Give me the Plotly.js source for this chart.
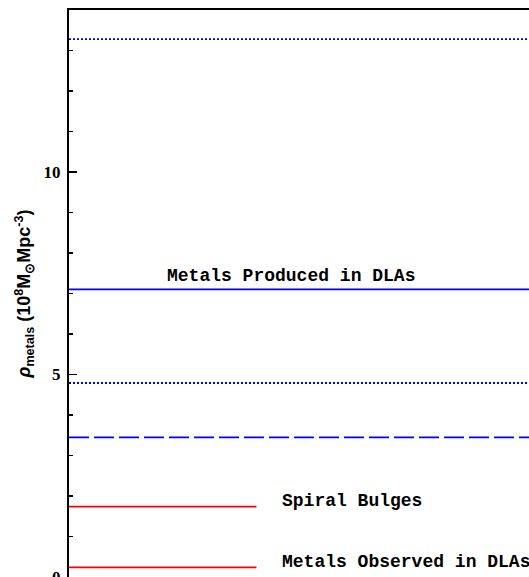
<!DOCTYPE html>
<html><head><meta charset="utf-8">
<script src="https://cdn.plot.ly/plotly-3.0.1.min.js"></script>
<style>html,body{margin:0;padding:0;overflow:hidden;background:#fff;width:529px;height:577px}</style>
</head><body><div id="chart"></div>
<script>
// Horizontal reference levels (10^8 Msun Mpc^-3)
const blueLevels = [13.28, 7.10, 4.79, 3.45];
const blueStyles = ['dot', 'solid', 'dot', 'dash'];
const redLevels = [1.74, 0.24];
const fullSpan = [0, 1];
const redSpan = [0, 0.313];
const labelTexts = ['Metals Produced in DLAs', 'Spiral Bulges', 'Metals Observed in DLAs'];
const labelX = [0.37, 0.352, 0.352];
const labelY = [7.42, 1.87, 0.37];
const labelAnchor = ['center', 'left', 'left'];
const yTickVals = [0, 5, 10];

const dashMap = {dot: '2px,2px', solid: 'solid', dash: '20px,5px'};
const traces = [];
blueLevels.forEach((v, i) => traces.push({
  x: fullSpan, y: [v, v], mode: 'lines', hoverinfo: 'skip', showlegend: false,
  line: {color: '#0000ff', width: 1.8, dash: dashMap[blueStyles[i]]}
}));
redLevels.forEach(v => traces.push({
  x: redSpan, y: [v, v], mode: 'lines', hoverinfo: 'skip', showlegend: false,
  line: {color: '#ff0000', width: 1.8}
}));

const annotations = labelTexts.map((t, i) => ({
  x: labelX[i], y: labelY[i], xref: 'x', yref: 'y', text: t, showarrow: false,
  xanchor: labelAnchor[i], yanchor: 'middle',
  font: {family: 'Liberation Mono, Courier New, monospace', size: 18, color: '#000', weight: 'bold'}
}));

const layout = {
  width: 700, height: 640,
  margin: {l: 69, r: 32, t: 10, b: 62.5, pad: 0},
  paper_bgcolor: '#fff', plot_bgcolor: '#fff',
  showlegend: false,
  xaxis: {range: [0, 1], showgrid: false, zeroline: false, showticklabels: false,
    ticks: '', showline: true, linecolor: '#000', linewidth: 2, mirror: true},
  yaxis: {range: [0, 14], showgrid: false, zeroline: false,
    tickvals: yTickVals, ticktext: yTickVals.map(String),
    ticks: 'inside', ticklen: 8, tickwidth: 1.5, tickcolor: '#000',
    ticklabelstandoff: 3,
    minor: {dtick: 1, ticks: 'inside', ticklen: 4, tickwidth: 1.5, tickcolor: '#000'},
    showline: true, linecolor: '#000', linewidth: 2, mirror: true,
    tickfont: {family: 'Liberation Serif, serif', size: 17, color: '#000', weight: 'bold'},
    title: {text: '<i>ρ</i><sub>metals</sub> (10<sup>8</sup>M<sub>⊙</sub>Mpc<sup>-3</sup>)',
      font: {family: 'Liberation Sans, Arial, sans-serif', size: 18, color: '#000', weight: 'bold'},
      standoff: 8}
  },
  annotations: annotations
};
Plotly.newPlot('chart', traces, layout, {displayModeBar: false, staticPlot: true});
</script>
</body></html>
